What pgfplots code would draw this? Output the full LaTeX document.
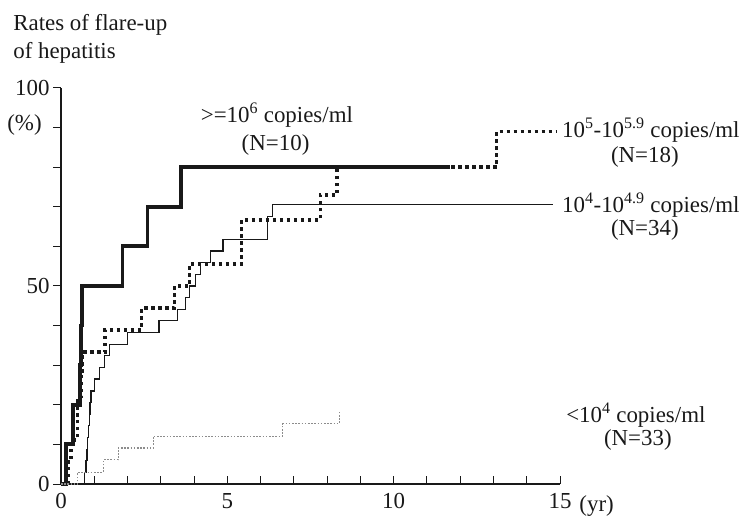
\documentclass[border=0pt]{standalone}
\usepackage{pgfplots}
\pgfplotsset{compat=1.18}
\usepackage{fontspec}
\setmainfont{Liberation Serif}
\definecolor{ink}{RGB}{25,25,25}
\definecolor{lightink}{RGB}{140,140,140}
\begin{document}
\begin{tikzpicture}
\path[use as bounding box] (-61bp,-33bp) rectangle (680bp,484bp);
\begin{axis}[
  at={(0,0)}, anchor=south west,
  scale only axis, width=499bp, height=396bp,
  xmin=0, xmax=15, ymin=0, ymax=100,
  axis lines*=left,
  axis line style={-, line width=1.2bp, ink},
  xtick={0,1,...,15},
  xticklabels={0,,,,,5,,,,,10,,,,,15},
  ytick={0,10,...,100},
  yticklabels={0,,,,,50,,,,,100},
  xtick align=inside,
  ytick align=outside,
  major tick length=8bp,
  tick style={line width=1bp, ink},
  tick label style={font=\fontsize{23}{27}\selectfont, text=ink},
  xticklabel style={yshift=-6bp},
  clip=false,
  every axis plot/.append style={const plot},
]
% >=10^6 copies/ml (N=10)
\addplot[ink, line width=3.8bp] coordinates {
 (0,0) (0.15,10) (0.37,20) (0.57,30) (0.60,40) (0.62,50) (1.85,60) (2.6,70) (3.6,80) (11.7,80)};
% 10^5-10^5.9 copies/ml (N=18)
\addplot[ink, line width=3.4bp, dash pattern=on 3.4bp off 3.6bp] coordinates {
 (0,0) (0.21,5.6) (0.30,11.1) (0.49,16.7) (0.50,22.2) (0.60,27.8) (0.65,33.3) (1.32,38.9) (2.42,44.4) (3.42,50) (3.87,55.6) (5.43,66.7) (7.8,73.0) (8.3,80) (13.1,89) (14.9,89)};
% 10^4-10^4.9 copies/ml (N=34)
\addplot[ink, line width=1.3bp] coordinates {
 (0,0) (0.70,2.9) (0.75,5.9) (0.78,8.8) (0.80,11.8) (0.82,14.7) (0.85,17.6) (0.87,20.6) (0.90,23.5) (1.0,26.5) (1.15,29.4) (1.30,32.4) (1.45,35.3) (2.0,38.2) (2.95,41.2) (3.5,44.1) (3.75,47.1) (3.87,50) (4.05,52.9) (4.2,55.9) (4.5,58.8) (4.87,61.8) (6.2,67.6) (6.35,70.6) (14.8,70.6)};
% <10^4 copies/ml (N=33)
\addplot[lightink, line width=1.1bp, dash pattern=on 1.6bp off 1.6bp] coordinates {
 (0,0) (0.5,3.0) (1.27,6.1) (1.72,9.1) (2.77,12.1) (6.67,15.2) (8.36,18.2)};

\begin{scope}[every node/.style={font=\fontsize{23}{27}\selectfont, text=ink, inner sep=0pt}]
\node at (axis cs:6.49,93.2) {>=10\textsuperscript{6} copies/ml};
\node at (axis cs:6.45,85.6) {(N=10)};
\node[anchor=west] at (axis cs:15.06,89.4) {10\textsuperscript{5}-10\textsuperscript{5.9} copies/ml};
\node at (axis cs:17.55,82.6) {(N=18)};
\node[anchor=west] at (axis cs:15.06,70.5) {10\textsuperscript{4}-10\textsuperscript{4.9} copies/ml};
\node at (axis cs:17.55,64.1) {(N=34)};
\node at (axis cs:17.28,17.4) {<10\textsuperscript{4} copies/ml};
\node at (axis cs:17.34,11.1) {(N=33)};
\node at (axis cs:16.1,-5.6) {(yr)};
\node[anchor=west] at (axis cs:-1.44,115.9) {Rates of flare-up};
\node[anchor=west] at (axis cs:-1.44,108.8) {of hepatitis};
\node[anchor=west] at (axis cs:-1.62,90.7) {(\%)};
\end{scope}
\end{axis}
\end{tikzpicture}
\end{document}
